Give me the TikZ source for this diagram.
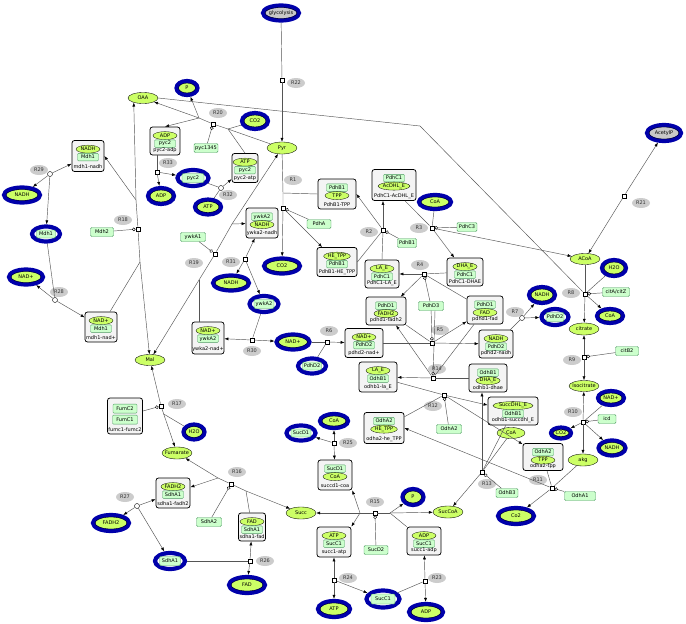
\documentclass[tikz,border=0pt]{standalone}
\usepackage{fontspec}
\setmainfont{DejaVu Sans}
\usetikzlibrary{shapes.geometric,arrows.meta}
\definecolor{molg}{HTML}{CCFF66}
\definecolor{protf}{HTML}{CCFFCC}
\definecolor{protd}{HTML}{4E9A62}
\definecolor{ringb}{HTML}{0000AA}
\definecolor{cpxf}{HTML}{F4F4F4}
\definecolor{rlabf}{HTML}{CCCCCC}
\definecolor{rlabt}{HTML}{333333}
\definecolor{lnc}{HTML}{555555}
\definecolor{greyf}{HTML}{C8C8C8}
\tikzset{
 txt/.style={inner sep=0pt, font=\fontsize{5}{5}\selectfont},
 mol/.style={ellipse, draw=black, line width=0.35pt, fill=molg, inner sep=0pt},
 protbox/.style={rectangle, rounded corners=1.2pt, draw=protd, line width=0.45pt, fill=protf, inner sep=0pt, minimum height=9},
 ring/.style={ellipse, draw=ringb, line width=4.2pt, inner sep=0pt},
 cpxbox/.style={rectangle, rounded corners=2.5pt, draw=black, line width=0.75pt, fill=cpxf, inner sep=0pt},
 ce/.style={ellipse, draw=black, line width=0.3pt, fill=molg, inner sep=0.2pt, minimum width=24, minimum height=8, font=\fontsize{5}{5}\selectfont},
 cr/.style={rectangle, rounded corners=1pt, draw=protd, line width=0.35pt, fill=protf, inner xsep=1.5pt, inner ysep=0.5pt, minimum width=21, minimum height=7.5, font=\fontsize{5}{5}\selectfont},
 rlabel/.style={ellipse, fill=rlabf, inner sep=0pt, minimum width=18, minimum height=10, text=rlabt, font=\fontsize{5}{5}\selectfont},
 rsq/.style={rectangle, draw=black, fill=white, line width=0.4pt, inner sep=0pt, minimum size=4.5},
 rci/.style={circle, draw=black, fill=white, line width=0.4pt, inner sep=0pt, minimum size=5},
 ln/.style={draw=lnc, line width=0.45pt},
 pr/.style={ln, -{Latex[length=4pt,width=3pt,color=black]}},
 md/.style={ln, -{Circle[open,length=3.5pt,width=3.5pt,color=black]}},
}
\newcommand{\smol}[6]{\node[mol,minimum width=#4,minimum height=#5] (#1) at (#2,#3) {}; \node[txt] at (#2,#3) {#6};}
\newcommand{\extm}[6]{\node[ring,fill=molg,minimum width=#4-4,minimum height=#5-4] (#1) at (#2,#3) {}; \node[ellipse,draw=black,line width=0.3pt,inner sep=0pt,minimum width=#4-8,minimum height=#5-8] at (#2,#3) {}; \node[txt] at (#2,#3) {#6};}
\newcommand{\extg}[6]{\node[ring,fill=greyf,minimum width=#4-4,minimum height=#5-4] (#1) at (#2,#3) {}; \node[ellipse,draw=black,line width=0.3pt,inner sep=0pt,minimum width=#4-8,minimum height=#5-8] at (#2,#3) {}; \node[txt] at (#2,#3) {#6};}
\newcommand{\extp}[6]{\node[ring,fill=white,minimum width=#4-4,minimum height=#5-4] (#1) at (#2,#3) {}; \node[protbox,minimum width=#4-13,minimum height=#5-11] at (#2,#3) {}; \node[txt] at (#2,#3) {#6};}
\newcommand{\prot}[5]{\node[protbox,minimum width=#4] (#1) at (#2,#3) {}; \node[txt] at (#2,#3) {#5};}
\newcommand{\cpx}[9]{\node[cpxbox,minimum width=#4,minimum height=#5] (#1) at (#2,#3) {}; \node[#6] (#1-a) at ([yshift=-9pt]#1.north) {#7}; \node[#8] (#1-b) at ([yshift=-17pt]#1.north) {#9};}
\newcommand{\clab}[2]{\node[txt] (#1-l) at ([yshift=5pt]#1.south) {#2};}
\newcommand{\rlab}[3]{\node[rlabel] (#1) at (#2,#3) {#1};}
\begin{document}
\begin{tikzpicture}[x=1pt,y=-1pt]
\useasboundingbox (0,0) rectangle (686,624);
\fill[white] (0,0) rectangle (686,624);
% ---------- reaction labels
\rlab{R22}{296}{83}\rlab{R20}{218}{113}\rlab{R33}{168}{163}\rlab{R32}{228}{195}
\rlab{R29}{39}{170}\rlab{R28}{59}{292}\rlab{R18}{123}{220}\rlab{R19}{194}{263}
\rlab{R31}{231}{262}\rlab{R30}{252}{351}\rlab{R6}{329}{331}\rlab{R1}{293}{180}
\rlab{R2}{369}{232}\rlab{R3}{419}{228}\rlab{R4}{420}{265}\rlab{R5}{440}{330}
\rlab{R14}{437}{369}\rlab{R12}{433}{406}\rlab{R7}{515}{312}\rlab{R8}{571}{293}
\rlab{R9}{572}{360}\rlab{R10}{573}{412}\rlab{R11}{538}{480}\rlab{R13}{487}{484}
\rlab{R15}{375}{502}\rlab{R25}{348}{443}\rlab{R24}{348}{578}\rlab{R23}{437}{578}
\rlab{R16}{237}{472}\rlab{R17}{177}{404}\rlab{R26}{265}{561}\rlab{R27}{125}{497}
\rlab{R21}{641}{203}
% ---------- simple molecules
\smol{OAA}{143}{98}{30}{11}{OAA}
\smol{Pyr}{282}{148}{30}{12}{Pyr}
\smol{Mal}{150}{360}{30}{11}{Mal}
\smol{Fum}{177}{453}{30}{12}{Fumarate}
\smol{Succ}{301}{513}{30}{12}{Succ}
\smol{SucCoA}{448}{512}{30}{12}{SucCoA}
\smol{CoAs}{511}{433}{28}{11}{CoA}
\smol{ACoA}{585}{259}{30}{11}{ACoA}
\smol{citrate}{584}{329}{30}{12}{citrate}
\smol{isocit}{584}{386}{30}{11}{Isocitrate}
\smol{akg}{583}{460}{30}{12}{akg}
% ---------- boundary molecules
\extg{glyco}{281}{13}{40}{19}{glycolysis}
\extg{AcP}{664}{133}{38}{20}{AcetylP}
\extm{Pt}{187}{88}{25}{18}{P}
\extm{CO2a}{255}{121}{30}{20}{CO2}
\extm{ADPa}{161}{196}{30}{20}{ADP}
\extm{ATPa}{208}{207}{30}{19}{ATP}
\extm{NADHa}{22}{195}{40}{19}{NADH}
\extm{NADa}{26}{277}{38}{19}{NAD+}
\extm{NADHb}{231}{283}{40}{19}{NADH}
\extm{CO2b}{282}{266}{40}{19}{CO2}
\extm{NADb}{293}{342}{37}{19}{NAD+}
\extm{CoAa}{435}{202}{36}{18}{CoA}
\extm{NADHc}{542}{295}{30}{20}{NADH}
\extm{H2Oa}{614}{268}{28}{20}{H2O}
\extm{CoAb}{610}{316}{30}{18}{CoA}
\extm{NADc}{611}{398}{30}{18}{NAD+}
\extm{CO2c}{561}{433}{24}{15}{CO2}
\extm{NADHd}{612}{448}{31}{19}{NADH}
\extm{Co2}{516}{516}{40}{20}{Co2}
\extm{Pb}{413}{497}{25}{20}{P}
\extm{CoAc}{334}{421}{32}{18}{CoA}
\extm{ATPb}{334}{609}{36}{20}{ATP}
\extm{ADPb}{426}{612}{38}{20}{ADP}
\extm{FAD}{247}{585}{40}{20}{FAD}
\extm{FADH2}{111}{523}{40}{20}{FADH2}
\extm{H2Ob}{194}{432}{25}{19}{H2O}
% ---------- boundary proteins
\extp{Mdh1}{46}{234}{32}{19}{Mdh1}
\extp{pyc2}{193}{178}{35}{20}{pyc2}
\extp{ywkA2}{264}{304}{33}{20}{ywkA2}
\extp{PdhD2a}{312}{366}{32}{19}{PdhD2}
\extp{PdhD2b}{555}{317}{31}{20}{PdhD2}
\extp{SucD1}{301}{433}{33}{19}{SucD1}
\extp{SucC1}{383}{599}{37}{21}{SucC1}
\extp{SdhA1}{170}{561}{34}{20}{SdhA1}
% ---------- proteins
\prot{Mdh2}{102}{232}{23}{Mdh2}
\prot{pyc1345}{206}{148}{24}{pyc1345}
\prot{ywkA1}{193}{237}{25}{ywkA1}
\prot{PdhA}{319}{224}{24}{PdhA}
\prot{PdhB1}{407}{243}{19}{PdhB1}
\prot{PdhC3}{467}{227}{20}{PdhC3}
\prot{PdhD3}{431}{306}{25}{PdhD3}
\prot{citAZ}{616}{292}{27}{citA/citZ}
\prot{citB2}{627}{351}{23}{citB2}
\prot{icd}{607}{419}{18}{icd}
\prot{OdhA1}{580}{496}{31}{OdhA1}
\prot{OdhB3}{507}{493}{22}{OdhB3}
\prot{OdhA2}{449}{429}{25}{OdhA2}
\prot{SdhA2}{209}{522}{25}{SdhA2}
\prot{SucD2}{376}{550}{24}{SucD2}
% ---------- complexes
\cpx{cMdhNADH}{88}{156}{32}{31}{ce}{NADH}{cr}{Mdh1}\clab{cMdhNADH}{mdh1-nadh}
\cpx{cPycADP}{165}{141}{30}{28}{ce}{ADP}{cr}{pyc2}\clab{cPycADP}{pyc2-adp}
\cpx{cPycATP}{245}{168}{26}{29}{ce}{ATP}{cr}{pyc2}\clab{cPycATP}{pyc2-atp}
\cpx{cMdhNAD}{101}{327}{32}{30}{ce}{NAD+}{cr}{Mdh1}\clab{cMdhNAD}{mdh1-nad+}
\cpx{cYwNADH}{262}{223}{32}{30}{cr}{ywkA2}{ce}{NADH}\clab{cYwNADH}{ywka2-nadh}
\cpx{cYwNAD}{208}{338}{32}{32}{ce}{NAD+}{cr}{ywkA2}\clab{cYwNAD}{ywka2-nad+}
\cpx{cPdhTPP}{337}{194}{38}{30}{cr}{PdhB1}{ce}{TPP}\clab{cPdhTPP}{PdhB1-TPP}
\cpx{cPdhHE}{337}{262}{40}{29}{ce}{HE\_TPP}{cr}{PdhB1}\clab{cPdhHE}{PdhB1-HE\_TPP}
\cpx{cAcDHL}{394}{185}{44}{31}{cr}{PdhC1}{ce}{AcDHL\_E}\clab{cAcDHL}{PdhC1-AcDHL\_E}
\cpx{cLAE}{382}{274}{34}{28}{ce}{LA\_E}{cr}{PdhC1}\clab{cLAE}{PdhC1-LA\_E}
\cpx{cDHAE}{465}{272}{36}{28}{ce}{DHA\_E}{cr}{PdhC1}\clab{cDHAE}{PdhC1-DHAE}
\cpx{cFADH2}{386}{311}{40}{28}{cr}{PdhD1}{ce}{FADH2}\clab{cFADH2}{pdhd1-fadh2}
\cpx{cFAD}{485}{310}{36}{28}{cr}{PdhD1}{ce}{FAD}\clab{cFAD}{pdhd1-fad}
\cpx{cD2NAD}{364}{343}{38}{29}{ce}{NAD+}{cr}{PdhD2}\clab{cD2NAD}{pdhd2-nad+}
\cpx{cD2NADH}{496}{344}{34}{28}{ce}{NADH}{cr}{PdhD2}\clab{cD2NADH}{pdhd2-nadh}
\cpx{cOLA}{378}{377}{38}{30}{ce}{LA\_E}{cr}{OdhB1}\clab{cOLA}{odhb1-la\_E}
\cpx{cODHA}{488}{378}{38}{28}{cr}{OdhB1}{ce}{DHA\_E}\clab{cODHA}{odhb1-dhae}
\cpx{cOSUC}{513}{411}{50}{28}{ce}{SuccDHL\_E}{cr}{OdhB1}\clab{cOSUC}{odhb1-succdhl\_E}
\cpx{cOTPP}{543}{457}{40}{27}{cr}{OdhA2}{ce}{TPP}\clab{cOTPP}{odha2-tpp}
\cpx{cOHE}{384}{428}{40}{31}{cr}{OdhA2}{ce}{HE\_TPP}\clab{cOHE}{odha2-he\_TPP}
\cpx{cSCoA}{335}{475}{34}{30}{cr}{SucD1}{ce}{CoA}\clab{cSCoA}{succd1-coa}
\cpx{cSATP}{334}{542}{34}{30}{ce}{ATP}{cr}{SucC1}\clab{cSATP}{succ1-atp}
\cpx{cSADP}{424}{541}{34}{28}{ce}{ADP}{cr}{SucC1}\clab{cSADP}{succ1-adp}
\cpx{cSFAD}{252}{527}{27}{28}{ce}{FAD}{cr}{SdhA1}\clab{cSFAD}{sdha1-fad}
\cpx{cSFADH2}{173}{493}{34}{30}{ce}{FADH2}{cr}{SdhA1}\clab{cSFADH2}{sdha1-fadh2}
\node[cpxbox,minimum width=35,minimum height=36] (cFum) at (125,416) {};
\node[cr,minimum width=24,minimum height=9] (cFum-a) at ([yshift=-11pt]cFum.north) {FumC2};
\node[cr,minimum width=25,minimum height=9] (cFum-b) at ([yshift=-22pt]cFum.north) {FumC1};
\clab{cFum}{fumc1-fumc2}
% ---------- reaction centres
\node[rsq] (s22) at (282,80) {};
\node[rsq] (s1) at (283,208) {};
\node[rsq] (s20) at (213,124) {};
\node[rsq] (s33) at (157,172) {};
\node[rci] (s32) at (221,188) {};
\node[rci] (s29) at (50,174) {};
\node[rci] (s28) at (55,300) {};
\node[rsq] (s18) at (138,229) {};
\node[rsq] (s19) at (215,254) {};
\node[rsq] (s31) at (245,259) {};
\node[rsq] (s30) at (252,340) {};
\node[rsq] (s6) at (327,342) {};
\node[rsq] (s2) at (383,230) {};
\node[rsq] (s3) at (432,228) {};
\node[rsq] (s4) at (424,274) {};
\node[rsq] (s5) at (432,343) {};
\node[rsq] (s14) at (433,378) {};
\node[rci] (s7) at (522,318) {};
\node[rsq] (s8) at (585,294) {};
\node[rsq] (s9) at (584,357) {};
\node[rsq] (s10) at (583,422) {};
\node[rsq] (s11) at (552,488) {};
\node[rsq] (s12) at (444,395) {};
\node[rsq] (s13) at (482,472) {};
\node[rsq] (s15) at (375,513) {};
\node[rsq] (s25) at (334,443) {};
\node[rsq] (s24) at (334,580) {};
\node[rsq] (s23) at (425,581) {};
\node[rsq] (s16) at (231,484) {};
\node[rsq] (s17) at (161,406) {};
\node[rsq] (s26) at (250,561) {};
\node[rci] (s27) at (137,506) {};
\node[rsq] (s21) at (624,196) {};
% ---------- branch points
\coordinate (m1) at (283,193);
\coordinate (a20) at (228,129);
\coordinate (b20) at (199,118);
\coordinate (m18) at (140,262);
\coordinate (n18) at (136,200);
\coordinate (m19) at (199,280);
\coordinate (n19) at (232,224);
\coordinate (k8) at (420,126);
\coordinate (l15) at (360,513);
\coordinate (r15) at (390,513);
\coordinate (m16) at (246,491);
\coordinate (n16) at (218,478);
\coordinate (b17) at (163.7,414);
% ---------- connectors
% R22
\draw[ln] (glyco) -- (s22); \draw[pr] (s22) -- (Pyr);
% R1
\draw[ln] (Pyr) -- (m1) -- (s1); \draw[ln] (cPdhTPP.west) -- (m1);
\draw[pr] (s1) -- (CO2b); \draw[pr] (s1) -- (cPdhHE); \draw[md] (PdhA) -- (s1);
% R20
\draw[ln] (Pyr) -- (a20); \draw[ln] (CO2a) -- (a20); \draw[ln] (cPycATP.north) -- (a20);
\draw[ln] (a20) -- (s20) -- (b20);
\draw[pr] (b20) -- (OAA); \draw[pr] (b20) -- (Pt); \draw[pr] (b20) -- (cPycADP.north);
\draw[md] (pyc1345) -- (s20);
% R33
\draw[ln] (s33 |- cPycADP.south) -- (s33); \draw[pr] (s33) -- (ADPa); \draw[pr] (s33) -- (pyc2);
% R32
\draw[ln] (pyc2) -- (s32); \draw[ln] (ATPa) -- (s32); \draw[pr] (s32) -- (cPycATP);
% R29
\draw[pr] (s29) -- (cMdhNADH); \draw[pr] (s29) -- (NADHa); \draw[pr] (s29) -- (Mdh1);
% R28
\draw[ln] (Mdh1) -- (s28); \draw[pr] (s28) -- (NADa); \draw[pr] (s28) -- (cMdhNAD);
% R18
\draw[pr] (m18) -- (Mal); \draw[ln] (m18) -- (s18) -- (n18);
\draw[pr] (n18) -- (OAA.-154); \draw[pr] (n18) -- (cMdhNADH.east);
\draw[ln] ([xshift=9pt]cMdhNAD.north) -- (m18); \draw[md] (Mdh2) -- (s18);
% R19
\draw[pr] (m19) -- (Mal); \draw[ln] (m19) -- (s19) -- (n19);
\draw[pr] (n19) -- (Pyr); \draw[pr] (n19) -- (cYwNADH);
\draw[ln] (m19 |- cYwNAD.north) -- (m19); \draw[md] (ywkA1) -- (s19);
% R31
\draw[pr] (s31) -- (cYwNADH); \draw[pr] (s31) -- (NADHb); \draw[pr] (s31) -- (ywkA2);
% R30
\draw[pr] (s30) -- (cYwNAD); \draw[pr] (s30) -- (NADb); \draw[ln] (ywkA2) -- (s30);
% R6
\draw[ln] (NADb) -- (s6); \draw[ln] (PdhD2a) -- (s6); \draw[pr] (s6) -- (cD2NAD);
% R2
\draw[ln] (cLAE.north) -- (s2); \draw[ln] (cPdhHE.east) -- (s2);
\draw[pr] (s2) -- (s2 |- cAcDHL.south); \draw[pr] (s2) -- (cPdhTPP.east); \draw[md] (PdhB1) -- (s2);
% R3
\draw[ln] ([xshift=11pt]cAcDHL.south) -- (s3); \draw[ln] (CoAa) -- (s3);
\draw[pr] (s3) -- (cDHAE); \draw[pr] (s3) -- (ACoA); \draw[md] (PdhC3) -- (s3);
% R4
\draw[ln] (cDHAE) -- (s4); \draw[ln] (cFAD) -- (s4);
\draw[pr] (s4) -- (cLAE); \draw[pr] (s4) -- (cFADH2); \draw[md] (PdhD3) -- (s4);
% R5
\draw[ln] (cD2NAD) -- (s5); \draw[ln] (cFADH2) -- (s5);
\draw[pr] (s5) -- (cFAD); \draw[pr] (s5) -- (cD2NADH); \draw[md] (PdhD3) -- (s5);
% R14
\draw[ln] (cODHA) -- (s14); \draw[ln] (cFAD) -- (s14);
\draw[pr] (s14) -- (cOLA); \draw[pr] (s14) -- (cFADH2); \draw[md] ([xshift=4pt]PdhD3.south) -- (s14);
% R7
\draw[ln] (cD2NADH) -- (s7); \draw[pr] (s7) -- (NADHc); \draw[pr] (s7) -- (PdhD2b);
% R8
\draw[ln] (OAA.east) -- (k8) -- (s8); \draw[ln] (ACoA) -- (s8); \draw[ln] (H2Oa) -- (s8);
\draw[pr] (s8) -- (citrate); \draw[pr] (s8) -- (CoAb); \draw[md] (citAZ) -- (s8);
% R9
\draw[pr] (s9) -- (citrate); \draw[pr] (s9) -- (isocit); \draw[md] (citB2) -- (s9);
% R10
\draw[pr] (s10) -- (isocit); \draw[ln] (NADc) -- (s10); \draw[pr] (s10) -- (CO2c);
\draw[pr] (s10) -- (NADHd); \draw[pr] (s10) -- (akg); \draw[md] (icd) -- (s10);
% R11
\draw[ln] (akg) -- (s11); \draw[ln] (cOTPP) -- (s11); \draw[pr] (s11) -- (Co2);
\draw[pr] (s11) -- (cOHE.east); \draw[md] (OdhA1) -- (s11);
% R12
\draw[ln] (cOLA) -- (s12); \draw[ln] (cOHE) -- (s12); \draw[pr] (s12) -- (cOSUC);
\draw[pr] (s12) -- (cOTPP); \draw[md] (OdhA2) -- (s12);
% R13
\draw[ln] (CoAs) -- (s13); \draw[ln] (cOSUC) -- (s13); \draw[pr] (s13) -- (SucCoA);
\draw[pr] (s13) -- (s13 |- cODHA.south); \draw[md] (OdhB3) -- (s13);
% R15
\draw[ln] (l15) -- (s15) -- (r15);
\draw[pr] (l15) -- (Succ); \draw[pr] (l15) -- (cSCoA.south east); \draw[pr] (l15) -- (cSATP.north east);
\draw[pr] (r15) -- (SucCoA); \draw[pr] (r15) -- (Pb); \draw[ln] (cSADP.north west) -- (r15);
\draw[md] (SucD2) -- (s15);
% R25
\draw[pr] (s25) -- (CoAc); \draw[pr] (s25) -- (cSCoA); \draw[pr] (s25) -- (SucD1);
% R24
\draw[pr] (s24) -- (cSATP); \draw[pr] (s24) -- (ATPb); \draw[pr] (s24) -- (SucC1);
% R23
\draw[pr] (s23) -- (cSADP); \draw[pr] (s23) -- (ADPb); \draw[ln] (SucC1) -- (s23);
% R16
\draw[pr] (m16) -- (Succ); \draw[ln] (m16) -- (s16) -- (n16);
\draw[pr] (n16) -- (Fum); \draw[pr] (n16) -- (cSFADH2); \draw[ln] (cSFAD) -- (m16);
\draw[md] (SdhA2) -- (s16);
% R17
\draw[pr] (s17) -- (Mal); \draw[ln] (s17) -- (b17); \draw[pr] (b17) -- (Fum);
\draw[ln] (H2Ob) -- (b17); \draw[md] (cFum) -- (s17);
% R26
\draw[ln] (SdhA1) -- (s26); \draw[pr] (s26) -- (cSFAD); \draw[pr] (s26) -- (FAD);
% R27
\draw[pr] (s27) -- (cSFADH2); \draw[pr] (s27) -- (FADH2); \draw[pr] (s27) -- (SdhA1);
% R21
\draw[pr] (s21) -- (AcP); \draw[pr] (s21) -- (ACoA);
\end{tikzpicture}
\end{document}
